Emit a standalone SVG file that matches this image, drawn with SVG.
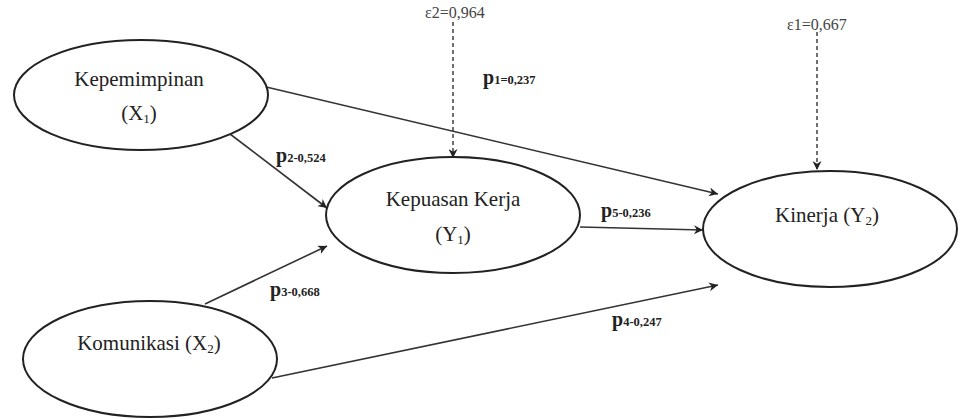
<svg xmlns="http://www.w3.org/2000/svg" width="960" height="419" viewBox="0 0 960 419">
<defs>
<marker id="ah" viewBox="0 0 10 10" refX="10" refY="5" markerWidth="9" markerHeight="9" markerUnits="userSpaceOnUse" orient="auto">
<path d="M0,0 L10,5 L0,10 L3,5 z" fill="#222"/>
</marker>
<style>
.node ellipse{fill:#fff;stroke:#222;stroke-width:2}
.lbl{font-family:"Liberation Serif","Times New Roman",serif;font-size:21px;fill:#222;text-anchor:middle}
.sub{font-size:13px}
.edge{stroke:#333;stroke-width:1.6;fill:none;marker-end:url(#ah)}
.dash{stroke:#333;stroke-width:1.4;fill:none;stroke-dasharray:4,3;marker-end:url(#ah)}
.p{font-family:"Liberation Serif","Times New Roman",serif;font-weight:bold;fill:#222}
.pb{font-size:20px}
.ps{font-size:12.5px}
.eps{font-family:"Liberation Serif","Times New Roman",serif;font-size:16px;fill:#444}
</style>
</defs>
<rect width="960" height="419" fill="#fff"/>
<g id="connectors">
<line class="dash" x1="453" y1="22" x2="453" y2="158"/>
<line class="dash" x1="817" y1="32" x2="817" y2="170"/>
<line class="edge" x1="262" y1="86" x2="718" y2="194"/>
<line class="edge" x1="230" y1="134" x2="327" y2="208"/>
<line class="edge" x1="205" y1="304" x2="327" y2="246"/>
<line class="edge" x1="580" y1="227" x2="703" y2="230"/>
<line class="edge" x1="272" y1="378" x2="718" y2="285"/>
</g>
<g id="X1" class="node">
<ellipse cx="141" cy="95" rx="127" ry="55"/>
<text class="lbl" x="139" y="86">Kepemimpinan</text>
<text class="lbl" x="139" y="120">(X<tspan class="sub" dy="3">1</tspan><tspan dy="-3">)</tspan></text>
</g>
<g id="X2" class="node">
<ellipse cx="150" cy="359" rx="127" ry="58"/>
<text class="lbl" x="149" y="350">Komunikasi (X<tspan class="sub" dy="3">2</tspan><tspan dy="-3">)</tspan></text>
</g>
<g id="Y1" class="node">
<ellipse cx="453" cy="215" rx="127" ry="58"/>
<text class="lbl" x="453" y="206">Kepuasan Kerja</text>
<text class="lbl" x="453" y="241">(Y<tspan class="sub" dy="3">1</tspan><tspan dy="-3">)</tspan></text>
</g>
<g id="Y2" class="node">
<ellipse cx="830" cy="229" rx="127" ry="58"/>
<text class="lbl" x="827" y="222">Kinerja (Y<tspan class="sub" dy="3">2</tspan><tspan dy="-3">)</tspan></text>
</g>
<g id="labels">
<text class="eps" x="425" y="18">ε2=0,964</text>
<text class="eps" x="787" y="30">ε1=0,667</text>
<text class="p" x="483" y="84"><tspan class="pb">p</tspan><tspan class="ps">1=0,237</tspan></text>
<text class="p" x="276" y="162"><tspan class="pb">p</tspan><tspan class="ps">2-0,524</tspan></text>
<text class="p" x="601" y="217"><tspan class="pb">p</tspan><tspan class="ps">5-0,236</tspan></text>
<text class="p" x="270" y="296"><tspan class="pb">p</tspan><tspan class="ps">3-0,668</tspan></text>
<text class="p" x="612" y="326"><tspan class="pb">p</tspan><tspan class="ps">4-0,247</tspan></text>
</g>
</svg>
